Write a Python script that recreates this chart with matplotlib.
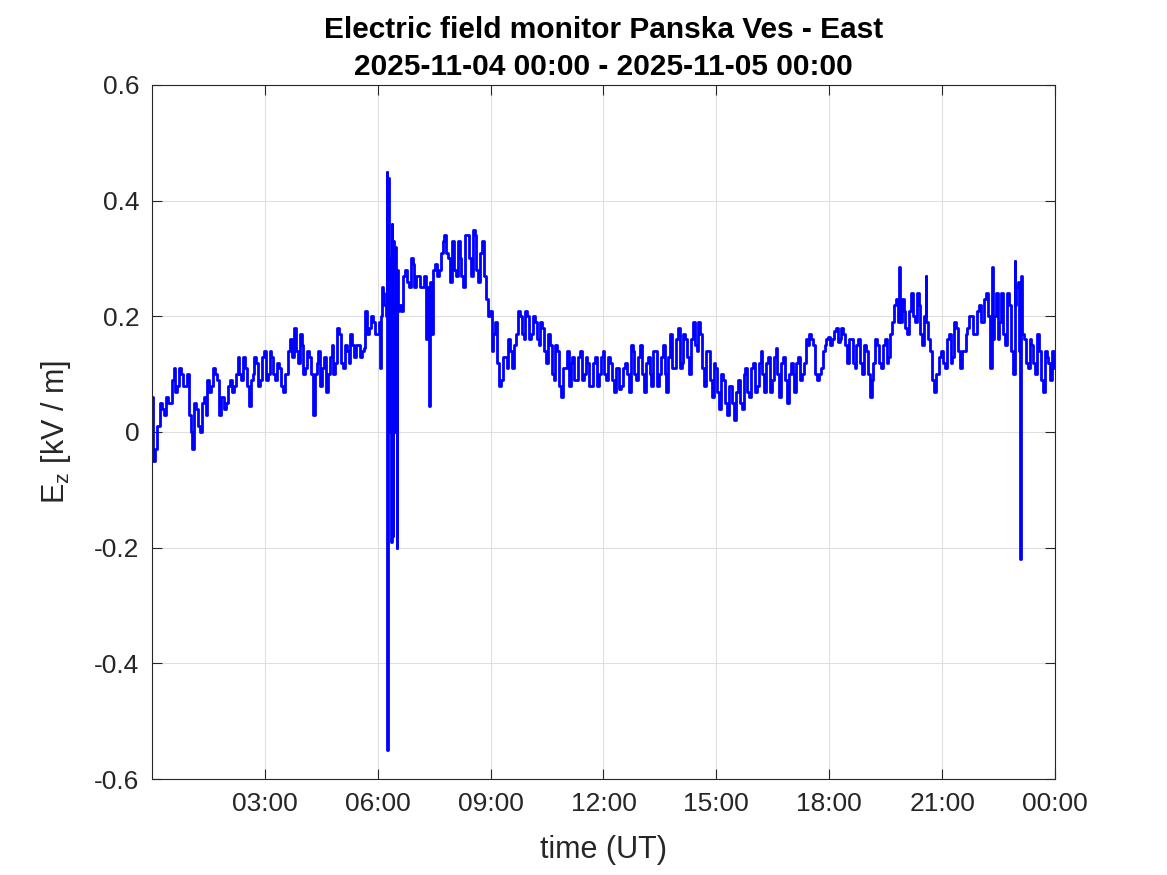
import numpy as np
import matplotlib
matplotlib.use('Agg')
import matplotlib.pyplot as plt

plt.rcParams['font.family'] = ['Liberation Sans', 'DejaVu Sans']
plt.rcParams['mathtext.fontset'] = 'custom'
plt.rcParams['mathtext.rm'] = 'Liberation Sans'

#### Data ####
# Ez samples at 00:00, 00:06, ... 24:00 (every 0.1 h), kV/m
ez_base = [
    0.06, -0.03, 0.01, 0.04, 0.06, 0.05, 0.11, 0.08, 0.10, 0.08,     # 00h
    0.03, -0.03, 0.04, 0.00, 0.06, 0.09, 0.08, 0.10, 0.03, 0.06,     # 01h
    0.05, 0.09, 0.08, 0.13, 0.09, 0.11, 0.045, 0.10, 0.12, 0.09,     # 02h
    0.14, 0.10, 0.13, 0.09, 0.11, 0.07, 0.10, 0.16, 0.18, 0.12,      # 03h
    0.15, 0.11, 0.13, 0.03, 0.12, 0.08, 0.13, 0.10, 0.15, 0.12,      # 04h
    0.17, 0.11, 0.14, 0.17, 0.13, 0.15, 0.14, 0.21, 0.18, 0.19,      # 05h
    0.17, 0.20, 0.22, 0.20, 0.25, 0.22, 0.22, 0.27, 0.26, 0.30,      # 06h
    0.25, 0.27, 0.25, 0.16, 0.26, 0.28, 0.27, 0.31, 0.34, 0.30,      # 07h
    0.33, 0.27, 0.30, 0.25, 0.34, 0.27, 0.34, 0.26, 0.33, 0.23,      # 08h
    0.21, 0.17, 0.12, 0.09, 0.13, 0.16, 0.11, 0.17, 0.20, 0.16,      # 09h
    0.20, 0.17, 0.19, 0.15, 0.18, 0.12, 0.15, 0.09, 0.14, 0.06,      # 10h
    0.11, 0.08, 0.13, 0.09, 0.14, 0.10, 0.12, 0.08, 0.13, 0.10,      # 11h
    0.14, 0.09, 0.12, 0.07, 0.11, 0.08, 0.12, 0.07, 0.14, 0.09,      # 12h
    0.15, 0.07, 0.13, 0.08, 0.14, 0.10, 0.15, 0.07, 0.17, 0.11,      # 13h
    0.18, 0.12, 0.16, 0.10, 0.19, 0.14, 0.17, 0.08, 0.14, 0.06,      # 14h
    0.11, 0.04, 0.09, 0.03, 0.08, 0.02, 0.09, 0.04, 0.11, 0.06,      # 15h
    0.12, 0.08, 0.14, 0.07, 0.13, 0.09, 0.145, 0.06, 0.13, 0.05,     # 16h
    0.12, 0.07, 0.13, 0.10, 0.16, 0.17, 0.15, 0.09, 0.11, 0.15,      # 17h
    0.165, 0.16, 0.18, 0.16, 0.17, 0.12, 0.16, 0.11, 0.16, 0.10,     # 18h
    0.14, 0.06, 0.12, 0.15, 0.11, 0.16, 0.13, 0.19, 0.23, 0.19,      # 19h
    0.21, 0.17, 0.24, 0.19, 0.22, 0.15, 0.19, 0.14, 0.07, 0.10,      # 20h
    0.14, 0.11, 0.17, 0.13, 0.18, 0.11, 0.14, 0.18, 0.20, 0.17,      # 21h
    0.22, 0.19, 0.24, 0.11, 0.20, 0.16, 0.24, 0.15, 0.22, 0.10,      # 22h
    0.25, 0.13, 0.16, 0.11, 0.15, 0.10, 0.14, 0.07, 0.13, 0.09,      # 23h
    0.11,
]

# Ez half-way between the base samples (00:03, 00:09, ... 23:57)
ez_mid = [
    -0.05, 0.01, 0.05, 0.03, 0.05, 0.09, 0.07, 0.11, 0.08, 0.10,     # 00h
    0.00, 0.05, 0.01, 0.05, 0.03, 0.07, 0.11, 0.09, 0.06, 0.04,      # 01h
    0.08, 0.07, 0.10, 0.10, 0.13, 0.08, 0.09, 0.13, 0.08, 0.13,      # 02h
    0.09, 0.14, 0.10, 0.12, 0.08, 0.10, 0.14, 0.13, 0.14, 0.17,      # 03h
    0.10, 0.14, 0.10, 0.10, 0.14, 0.11, 0.07, 0.13, 0.10, 0.18,      # 04h
    0.12, 0.15, 0.12, 0.15, 0.15, 0.13, 0.145, 0.17, 0.20, 0.17,     # 05h
    0.19, 0.24, 0.38, 0.25, 0.20, 0.28, 0.21, 0.28, 0.25, 0.29,      # 06h
    0.27, 0.25, 0.27, 0.25, 0.17, 0.29, 0.28, 0.33, 0.31, 0.26,      # 07h
    0.28, 0.33, 0.27, 0.34, 0.30, 0.35, 0.28, 0.31, 0.27, 0.20,      # 08h
    0.14, 0.19, 0.08, 0.13, 0.11, 0.14, 0.15, 0.21, 0.17, 0.21,      # 09h
    0.16, 0.20, 0.16, 0.19, 0.14, 0.17, 0.10, 0.15, 0.08, 0.11,      # 10h
    0.14, 0.12, 0.09, 0.13, 0.09, 0.13, 0.08, 0.12, 0.08, 0.13,      # 11h
    0.10, 0.13, 0.09, 0.11, 0.075, 0.11, 0.10, 0.15, 0.10, 0.13,     # 12h
    0.10, 0.12, 0.10, 0.14, 0.08, 0.13, 0.10, 0.13, 0.11, 0.16,      # 13h
    0.11, 0.17, 0.13, 0.16, 0.15, 0.19, 0.11, 0.14, 0.09, 0.12,      # 14h
    0.07, 0.10, 0.05, 0.08, 0.05, 0.07, 0.05, 0.10, 0.07, 0.11,      # 15h
    0.07, 0.12, 0.10, 0.12, 0.07, 0.13, 0.10, 0.12, 0.09, 0.10,      # 16h
    0.10, 0.12, 0.09, 0.12, 0.15, 0.16, 0.10, 0.10, 0.14, 0.16,      # 17h
    0.15, 0.175, 0.155, 0.18, 0.15, 0.16, 0.12, 0.15, 0.12, 0.15,    # 18h
    0.10, 0.09, 0.16, 0.12, 0.15, 0.12, 0.17, 0.22, 0.19, 0.23,      # 19h
    0.18, 0.21, 0.20, 0.24, 0.17, 0.20, 0.16, 0.09, 0.10, 0.13,      # 20h
    0.12, 0.16, 0.12, 0.19, 0.14, 0.14, 0.17, 0.20, 0.17, 0.21,      # 21h
    0.19, 0.23, 0.20, 0.16, 0.24, 0.19, 0.17, 0.24, 0.14, 0.22,      # 22h
    0.14, 0.17, 0.12, 0.16, 0.12, 0.17, 0.09, 0.14, 0.12, 0.14,      # 23h
]

# short excursions that fall between the samples
spike_hours = [6.05, 6.13, 6.22, 6.25, 6.27, 6.29, 6.31, 6.33, 6.36, 6.38,
               6.40, 6.43, 6.46, 6.48, 6.50, 6.52, 6.55, 7.36, 19.88, 20.57,
               22.33, 22.95, 23.02, 23.09, 23.12]
spike_ez = [0.11, 0.25, 0.20, 0.45, -0.55, 0.44, 0.00, 0.30, -0.19, 0.36,
            -0.18, 0.33, 0.00, 0.32, -0.20, 0.28, 0.21, 0.045, 0.285, 0.27,
            0.285, 0.295, 0.26, -0.22, 0.27]

tick_hours = [3, 6, 9, 12, 15, 18, 21, 24]
tick_labels = ['03:00', '06:00', '09:00', '12:00', '15:00', '18:00', '21:00', '00:00']
y_ticks = [-0.6, -0.4, -0.2, 0, 0.2, 0.4, 0.6]
y_labels = ['-0.6', '-0.4', '-0.2', '0', '0.2', '0.4', '0.6']

base_hours = np.linspace(0, 24, len(ez_base))
mid_hours = base_hours[:-1] + 0.05
hours = np.concatenate([base_hours, mid_hours, spike_hours])
ez = np.concatenate([ez_base, ez_mid, spike_ez])
order = np.argsort(hours, kind='stable')

## Figure
fig = plt.figure(figsize=(11.67, 8.75), dpi=100)
ax = fig.add_axes([0.1302, 0.1097, 0.7738, 0.7932])

ax.plot(hours[order], ez[order], color=(0, 0, 1), lw=2.0, drawstyle='steps-mid')

ax.set_xlim(0, 24)
ax.set_ylim(-0.6, 0.6)
ax.set_xticks(tick_hours)
ax.set_xticklabels(tick_labels)
ax.set_yticks(y_ticks)
ax.set_yticklabels(y_labels)

tc = '#262626'
ax.grid(True, color='#dfdfdf', lw=0.8)
ax.set_axisbelow(True)
ax.tick_params(direction='in', length=7, width=0.8, top=True, right=True,
               labelsize=19, colors=tc, pad=9)
for s in ax.spines.values():
    s.set_color(tc)
    s.set_linewidth(0.8)

ax.set_title('Electric field monitor Panska Ves - East\n2025-11-04 00:00 - 2025-11-05 00:00',
             fontsize=21.5, fontweight='bold', pad=7, linespacing=1.4)
ax.set_xlabel('time (UT)', fontsize=22, color=tc, labelpad=14)
ax.set_ylabel('E$_\\mathregular{z}$ [kV / m]', fontsize=22, color=tc, labelpad=15)

fig.savefig('out.png', dpi=100)
